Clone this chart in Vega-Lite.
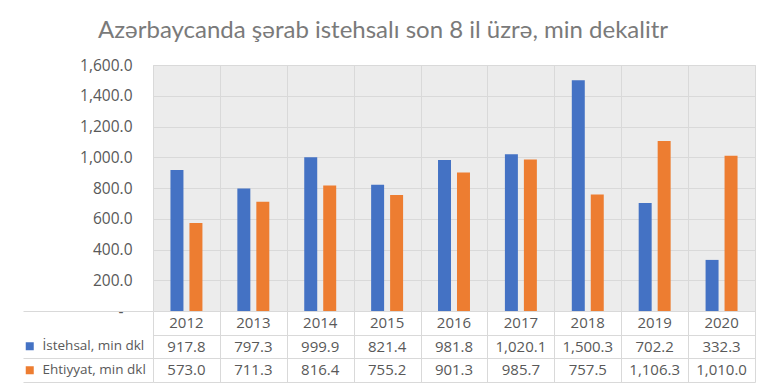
{
  "$schema": "https://vega.github.io/schema/vega-lite/v6.json",
  "padding": {"left": 22, "top": 18, "right": 0, "bottom": 0},
  "background": "white",
  "title": {
    "text": "Azərbaycanda şərab istehsalı son 8 il üzrə, min dekalitr",
    "anchor": "middle",
    "dx": -6,
    "offset": 15,
    "font": "Lato",
    "fontSize": 24,
    "fontWeight": "normal",
    "color": "#7a7a7a"
  },
  "datasets": {
    "wine": [
      {"year": "2012", "series": "İstehsal, min dkl", "value": 917.8},
      {"year": "2012", "series": "Ehtiyyat, min dkl", "value": 573.0},
      {"year": "2013", "series": "İstehsal, min dkl", "value": 797.3},
      {"year": "2013", "series": "Ehtiyyat, min dkl", "value": 711.3},
      {"year": "2014", "series": "İstehsal, min dkl", "value": 999.9},
      {"year": "2014", "series": "Ehtiyyat, min dkl", "value": 816.4},
      {"year": "2015", "series": "İstehsal, min dkl", "value": 821.4},
      {"year": "2015", "series": "Ehtiyyat, min dkl", "value": 755.2},
      {"year": "2016", "series": "İstehsal, min dkl", "value": 981.8},
      {"year": "2016", "series": "Ehtiyyat, min dkl", "value": 901.3},
      {"year": "2017", "series": "İstehsal, min dkl", "value": 1020.1},
      {"year": "2017", "series": "Ehtiyyat, min dkl", "value": 985.7},
      {"year": "2018", "series": "İstehsal, min dkl", "value": 1500.3},
      {"year": "2018", "series": "Ehtiyyat, min dkl", "value": 757.5},
      {"year": "2019", "series": "İstehsal, min dkl", "value": 702.2},
      {"year": "2019", "series": "Ehtiyyat, min dkl", "value": 1106.3},
      {"year": "2020", "series": "İstehsal, min dkl", "value": 332.3},
      {"year": "2020", "series": "Ehtiyyat, min dkl", "value": 1010.0}
    ]
  },
  "data": {"name": "wine"},
  "spacing": 0,
  "bounds": "flush",
  "vconcat": [
    {
      "width": 602,
      "height": 246,
      "view": {"fill": "#ececec", "stroke": "#d9d9d9"},
      "mark": {"type": "bar"},
      "encoding": {
        "x": {
          "field": "year", "type": "nominal",
          "scale": {"paddingInner": 0, "paddingOuter": 0},
          "axis": {"title": null, "labels": false, "ticks": false, "domain": false, "grid": true, "tickBand": "extent", "gridColor": "#d9d9d9"}
        },
        "xOffset": {
          "field": "series", "type": "nominal",
          "sort": ["İstehsal, min dkl", "Ehtiyyat, min dkl"],
          "scale": {"paddingInner": 0.316, "paddingOuter": 0.92}
        },
        "y": {
          "field": "value", "type": "quantitative",
          "scale": {"domain": [0, 1600], "nice": false},
          "axis": {
            "title": null,
            "values": [0, 200, 400, 600, 800, 1000, 1200, 1400, 1600],
            "labelExpr": "datum.value == 0 ? '-' : format(datum.value, ',.1f')",
            "labelOverlap": false,
            "domain": false, "ticks": false,
            "labelPadding": {"condition": {"test": "datum.value == 0", "value": 30}, "value": 21},
            "gridColor": "#d9d9d9"
          }
        },
        "color": {
          "field": "series", "type": "nominal",
          "sort": ["İstehsal, min dkl", "Ehtiyyat, min dkl"],
          "scale": {"range": ["#4472c4", "#ed7d31"]},
          "legend": {
            "orient": "none", "legendX": -130, "legendY": 269.3,
            "title": null, "symbolType": "square", "symbolSize": 64, "symbolStrokeWidth": 0,
            "labelFont": "Open Sans", "labelFontSize": 13.5, "labelColor": "#595959",
            "labelOffset": 6, "clipHeight": 23.7, "rowPadding": 0, "padding": 0
          }
        }
      }
    },
    {
      "width": 602,
      "height": 71,
      "view": {"fill": "white", "stroke": null},
      "encoding": {
        "x": {
          "field": "year", "type": "nominal",
          "scale": {"paddingInner": 0, "paddingOuter": 0},
          "axis": {"title": null, "labels": false, "ticks": false, "domain": false, "grid": true, "tickBand": "extent", "gridColor": "#d9d9d9"}
        }
      },
      "layer": [
        {
          "mark": {"type": "text", "font": "Open Sans", "fontSize": 15, "color": "#595959"},
          "encoding": {
            "y": {
              "field": "series", "type": "nominal",
              "scale": {"type": "band", "domain": ["yr", "İstehsal, min dkl", "Ehtiyyat, min dkl"], "paddingInner": 0, "paddingOuter": 0},
              "axis": {
                "title": null, "labels": false, "domain": false, "ticks": true,
                "tickBand": "extent", "tickSize": 130,
                "tickColor": {"condition": {"test": "datum.value === 'yr'", "value": "transparent"}, "value": "#d9d9d9"},
                "grid": true, "gridColor": "#d9d9d9"
              }
            },
            "text": {"field": "value", "type": "quantitative", "format": ",.1f"}
          }
        },
        {
          "transform": [{"filter": "datum.series === 'İstehsal, min dkl'"}],
          "mark": {"type": "text", "font": "Open Sans", "fontSize": 15, "color": "#595959"},
          "encoding": {
            "y": {"datum": "yr"},
            "text": {"field": "year", "type": "nominal"}
          }
        }
      ]
    }
  ],
  "config": {
    "font": "Open Sans",
    "axis": {"labelFont": "Open Sans", "labelFontSize": 15.5, "labelColor": "#595959"}
  }
}
